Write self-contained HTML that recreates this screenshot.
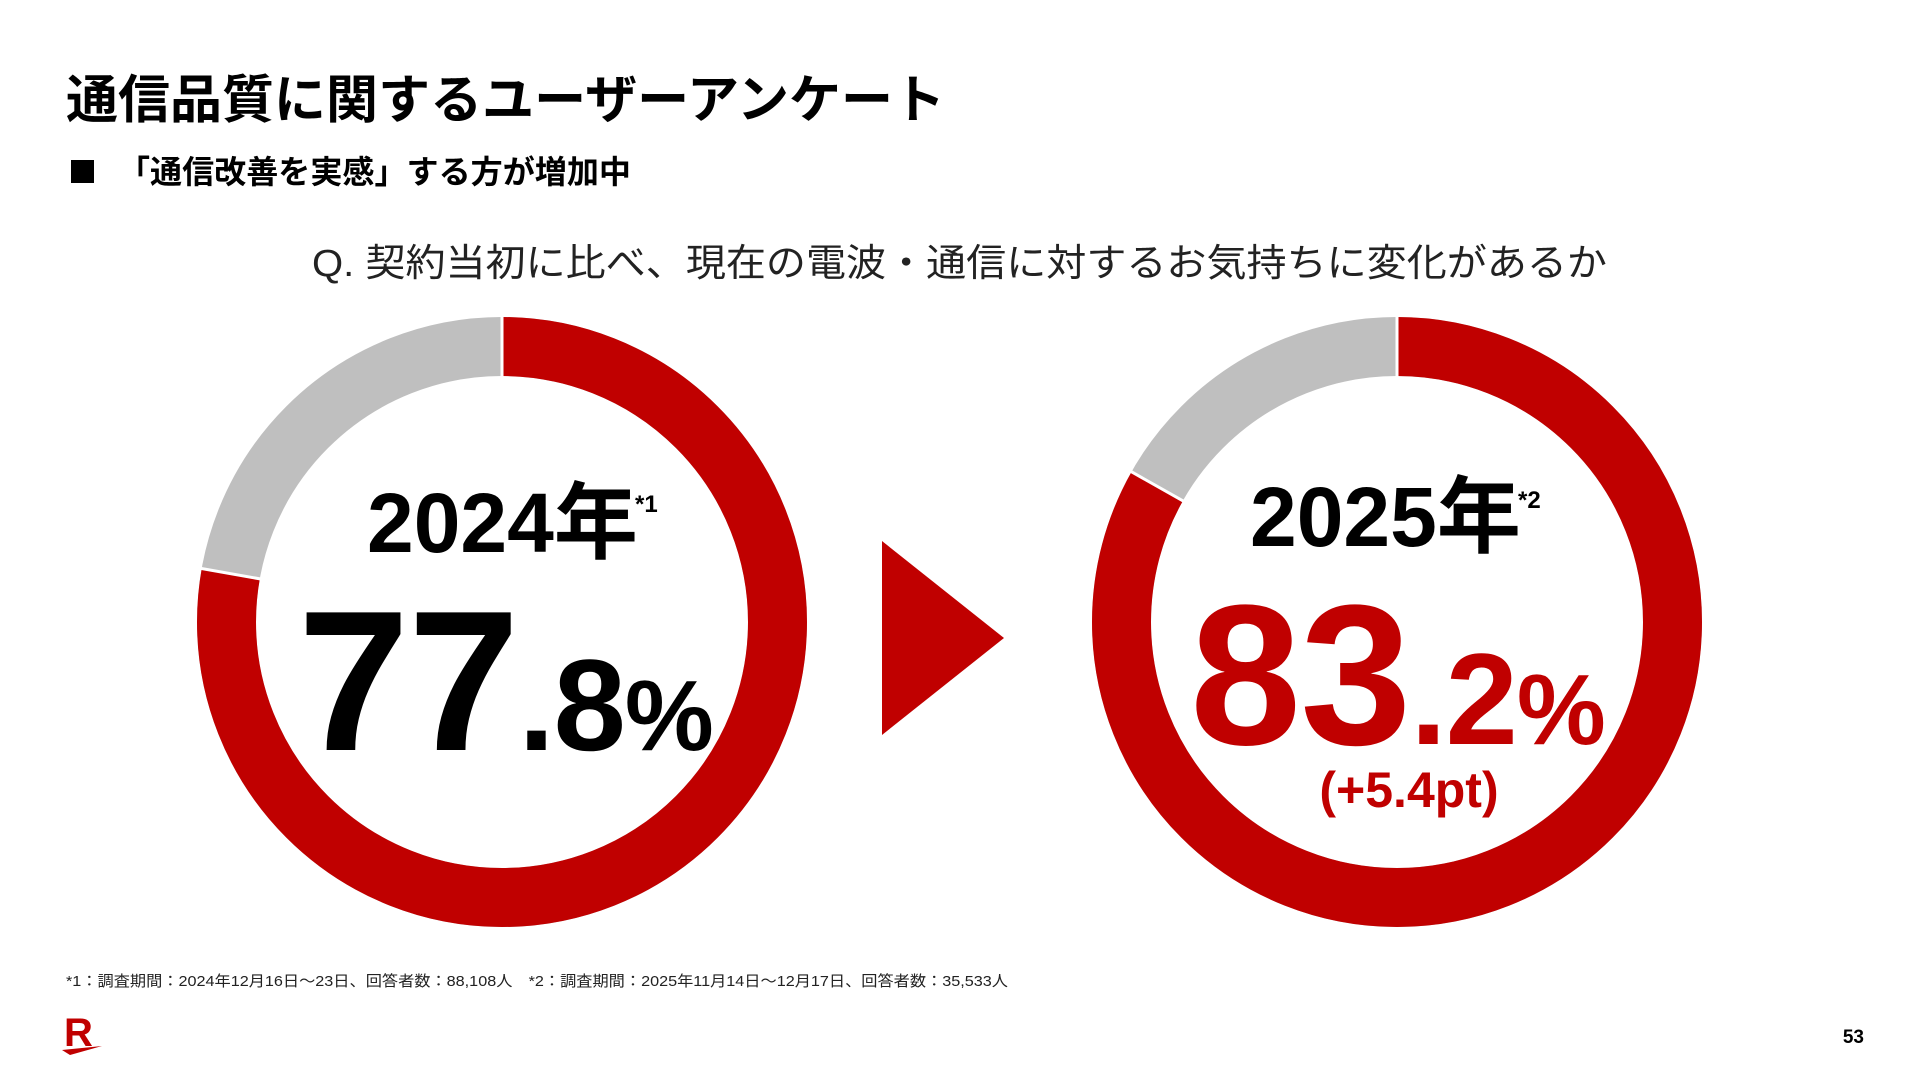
<!DOCTYPE html>
<html><head><meta charset="utf-8"><style>
html,body{margin:0;padding:0;background:#fff;}
body{width:1920px;height:1080px;overflow:hidden;}
svg text{font-family:"Liberation Sans","Noto Sans CJK JP",sans-serif;}
</style></head><body>
<svg width="1920" height="1080" viewBox="0 0 1920 1080" xmlns="http://www.w3.org/2000/svg">
<rect width="1920" height="1080" fill="#fff"/>
<text x="66" y="118" font-size="52" font-weight="700" fill="#000" font-family="Noto Sans CJK JP,sans-serif" textLength="879" lengthAdjust="spacingAndGlyphs">通信品質に関するユーザーアンケート</text>
<rect x="71" y="160" width="23" height="23" fill="#000"/>
<text x="118" y="183" font-size="32" font-weight="700" fill="#000" font-family="Noto Sans CJK JP,sans-serif" textLength="513" lengthAdjust="spacingAndGlyphs">「通信改善を実感」する方が増加中</text>
<text x="312" y="276" font-size="38" fill="#222" font-family="Noto Sans CJK JP,sans-serif" textLength="1295" lengthAdjust="spacingAndGlyphs">Q. 契約当初に比べ、現在の電波・通信に対するお気持ちに変化があるか</text>

<!-- left ring -->
<g transform="translate(502,622)">
<circle r="275.5" fill="none" stroke="#bfbfbf" stroke-width="59"/>
<circle r="275.5" fill="none" stroke="#c00000" stroke-width="59" stroke-dasharray="1346.7 2000" transform="rotate(-90)"/>
<line x1="0" y1="-245" x2="0" y2="-306" stroke="#fff" stroke-width="3"/>
<line x1="0" y1="-245" x2="0" y2="-306" stroke="#fff" stroke-width="3" transform="rotate(280.1)"/>
</g>
<!-- right ring -->
<g transform="translate(1397,622)">
<circle r="275.5" fill="none" stroke="#bfbfbf" stroke-width="59"/>
<circle r="275.5" fill="none" stroke="#c00000" stroke-width="59" stroke-dasharray="1440.2 2000" transform="rotate(-90)"/>
<line x1="0" y1="-245" x2="0" y2="-306" stroke="#fff" stroke-width="3"/>
<line x1="0" y1="-245" x2="0" y2="-306" stroke="#fff" stroke-width="3" transform="rotate(299.5)"/>
</g>

<polygon points="882,541 1004,638 882,735" fill="#c00000"/>

<text x="367" y="552" font-size="84" font-weight="700" fill="#000">2024<tspan font-family="Noto Sans CJK JP,sans-serif">年</tspan></text>
<text x="635" y="512" font-size="24" font-weight="700" fill="#000">*1</text>
<text x="298" y="750" font-size="200" font-weight="700" fill="#000" letter-spacing="-1">77<tspan font-size="130">.8</tspan><tspan font-size="100">%</tspan></text>

<text x="1250" y="546" font-size="84" font-weight="700" fill="#000">2025<tspan font-family="Noto Sans CJK JP,sans-serif">年</tspan></text>
<text x="1518" y="508" font-size="24" font-weight="700" fill="#000">*2</text>
<text x="1190" y="744" font-size="200" font-weight="700" fill="#c00000" letter-spacing="-1">83<tspan font-size="130">.2</tspan><tspan font-size="100">%</tspan></text>
<text x="1409" y="807" font-size="50" font-weight="700" fill="#c00000" text-anchor="middle">(+5.4pt)</text>

<text x="66" y="986" font-size="15" fill="#222" font-family="Noto Sans CJK JP,sans-serif" textLength="942" lengthAdjust="spacingAndGlyphs">*1：調査期間：2024年12月16日～23日、回答者数：88,108人　*2：調査期間：2025年11月14日～12月17日、回答者数：35,533人</text>

<text x="64" y="1046" font-size="40" font-weight="700" fill="#c00000" font-family="Liberation Sans,sans-serif">R</text>
<polygon points="62,1050 102,1046 70,1055" fill="#c00000"/>
<text x="1864" y="1043" font-size="19" font-weight="700" fill="#000" text-anchor="end">53</text>
</svg>
</body></html>
